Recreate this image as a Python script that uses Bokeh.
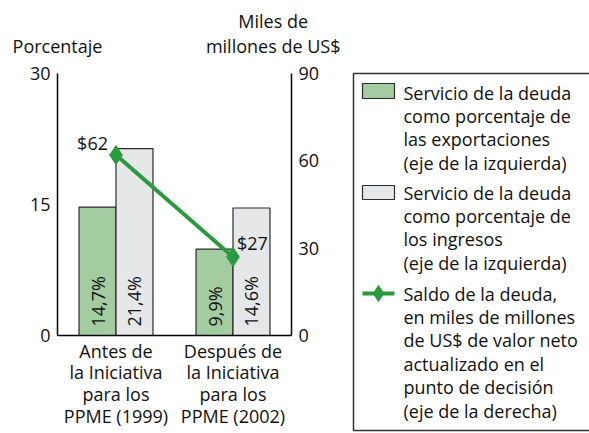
from bokeh.plotting import figure
from bokeh.models import Range1d, LinearAxis, FixedTicker, ColumnDataSource
from bokeh.layouts import row
from bokeh.embed import file_html
from bokeh.resources import INLINE
from bokeh.core.properties import value

# ---------------- data ----------------
categories = ["Antes de\nla Iniciativa\npara los\nPPME (1999)",
              "Después de\nla Iniciativa\npara los\nPPME (2002)"]
exports_pct = [14.7, 9.9]      # servicio de la deuda / exportaciones (%)
revenue_pct = [21.4, 14.6]     # servicio de la deuda / ingresos (%)
debt_stock = [62, 27]          # saldo de la deuda, miles de millones US$
left_ticks = [0, 15, 30]
right_ticks = [0, 30, 60, 90]
left_title = "Porcentaje"
right_title = "Miles de\nmillones de US$"
legend_labels = [
    "Servicio de la deuda\ncomo porcentaje de\nlas exportaciones\n(eje de la izquierda)",
    "Servicio de la deuda\ncomo porcentaje de\nlos ingresos\n(eje de la izquierda)",
    "Saldo de la deuda,\nen miles de millones\nde US$ de valor neto\nactualizado en el\npunto de decisión\n(eje de la derecha)",
]

# ---------------- style ----------------
FONT = "Open Sans"
GREEN_FILL = "#A4CCA1"
GRAY_FILL = "#E6E7E9"
LINE_GREEN = "#2A9A3E"
EDGE = "#2b2b2b"
TXT = "#111111"
FS = "18px"
LFS = "18px"

xs = [i + 1 for i in range(len(categories))]
bw = 0.316
x_green = [x - bw / 2 for x in xs]
x_gray = [x + bw / 2 for x in xs]
fmt = lambda v: f"{v:.1f}".replace(".", ",") + "%"

p = figure(width=340, height=433, output_backend="svg", toolbar_location=None,
           x_range=Range1d(0.5, 2.5), y_range=Range1d(0, 30),
           x_axis_type=None, y_axis_type=None,
           min_border_left=57, min_border_right=49, min_border_top=73, min_border_bottom=98)
p.extra_y_ranges = {"usd": Range1d(0, 90)}
p.outline_line_color = None
p.xgrid.visible = False
p.ygrid.visible = False
p.background_fill_color = "white"
p.border_fill_color = "white"

def style_axis(ax, standoff=7):
    ax.major_tick_out = 0
    ax.major_tick_in = 0
    ax.minor_tick_out = 0
    ax.minor_tick_in = 0
    ax.axis_line_color = "black"
    ax.axis_line_width = 1.5
    ax.major_label_text_font = FONT
    ax.major_label_text_font_size = FS
    ax.major_label_text_color = TXT
    ax.major_label_standoff = standoff

yl = LinearAxis(ticker=FixedTicker(ticks=left_ticks))
style_axis(yl)
p.add_layout(yl, "left")
yr = LinearAxis(y_range_name="usd", ticker=FixedTicker(ticks=right_ticks))
style_axis(yr)
p.add_layout(yr, "right")

xa = LinearAxis(ticker=FixedTicker(ticks=xs),
                major_label_overrides={x: c for x, c in zip(xs, categories)})
style_axis(xa, standoff=3)
xa.major_label_text_line_height = 0.91
p.add_layout(xa, "below")

# axis titles as labels of a line-less axis above the frame
ta = LinearAxis(ticker=FixedTicker(ticks=[0.5, 2.5]),
                major_label_overrides={0.5: left_title, 2.5: right_title})
style_axis(ta, standoff=16)
ta.axis_line_color = None
ta.major_label_text_line_height = 1.03
p.add_layout(ta, "above")

src = ColumnDataSource(dict(xg=x_green, xr=x_gray, exp=exports_pct, rev=revenue_pct,
                            lexp=[fmt(v) for v in exports_pct],
                            lrev=[fmt(v) for v in revenue_pct]))
p.vbar(x="xg", top="exp", width=bw, source=src, fill_color=GREEN_FILL,
       line_color=EDGE, line_width=1.2)
p.vbar(x="xr", top="rev", width=bw, source=src, fill_color=GRAY_FILL,
       line_color=EDGE, line_width=1.2)
p.text(x="xg", y=0, text="lexp", source=src, angle=1.5708, text_align="left",
       text_baseline="middle", y_offset=-9, text_font=value(FONT),
       text_font_size=FS, text_color=TXT)
p.text(x="xr", y=0, text="lrev", source=src, angle=1.5708, text_align="left",
       text_baseline="middle", y_offset=-9, text_font=value(FONT),
       text_font_size=FS, text_color=TXT)

lsrc = ColumnDataSource(dict(x=xs, y=debt_stock))
p.line(x="x", y="y", source=lsrc, y_range_name="usd", line_color=LINE_GREEN, line_width=4)
p.scatter(x="x", y="y", source=lsrc, y_range_name="usd", marker="diamond", size=19,
          fill_color=LINE_GREEN, line_color=LINE_GREEN)
p.text(x=[xs[0]], y=[debt_stock[0]], text=[f"${debt_stock[0]}"], y_range_name="usd",
       text_align="right", text_baseline="middle", x_offset=-8, y_offset=-12,
       text_font=value(FONT), text_font_size=FS, text_color=TXT)
p.text(x=[xs[1]], y=[debt_stock[1]], text=[f"${debt_stock[1]}"], y_range_name="usd",
       text_align="left", text_baseline="middle", x_offset=4, y_offset=-14,
       text_font=value(FONT), text_font_size=FS, text_color=TXT)

# ---------------- legend panel ----------------
lg = figure(width=249, height=433, output_backend="svg", toolbar_location=None,
            x_range=Range1d(340, 589), y_range=Range1d(433, 0),
            x_axis_type=None, y_axis_type=None,
            min_border_left=0, min_border_right=0, min_border_top=0, min_border_bottom=0)
lg.outline_line_color = None
lg.xgrid.visible = False
lg.ygrid.visible = False
for fig in (p, lg):
    try:
        fig.frame_align = False
    except Exception:
        pass

lg.quad(left=[353], right=[600], top=[73], bottom=[430], fill_color=None,
        line_color="#333333", line_width=1.5)
lg.quad(left=[362], right=[394], top=[83], bottom=[98], fill_color=GREEN_FILL,
        line_color=EDGE, line_width=1.2)
lg.quad(left=[362], right=[394], top=[185], bottom=[199], fill_color=GRAY_FILL,
        line_color=EDGE, line_width=1.2)
lg.line(x=[362, 394], y=[293, 293], line_color=LINE_GREEN, line_width=4)
lg.scatter(x=[378], y=[293], marker="diamond", size=16, fill_color=LINE_GREEN,
           line_color=LINE_GREEN)

starts = [92, 192, 293]
step = 23.4
tx, ty, tt = [], [], []
for s, lab in zip(starts, legend_labels):
    for k, line in enumerate(lab.split("\n")):
        tx.append(403)
        ty.append(s + k * step)
        tt.append(line)
lg.text(x=tx, y=ty, text=tt, text_align="left", text_baseline="middle",
        text_font=value(FONT), text_font_size=LFS, text_color=TXT)

layout = row(p, lg, spacing=0)
open("out.html", "w").write(file_html(layout, INLINE))
